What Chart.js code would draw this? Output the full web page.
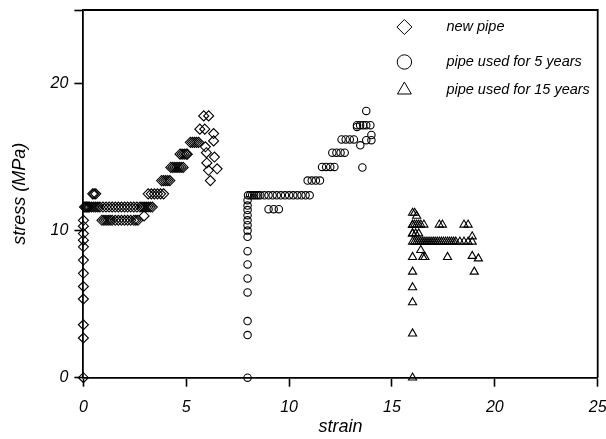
<!DOCTYPE html>
<html>
<head>
<meta charset="utf-8">
<script src="https://cdn.jsdelivr.net/npm/chart.js@4/dist/chart.umd.min.js"></script>
<style>
  html, body { margin: 0; padding: 0; background: #fff; }
  #wrap { width: 606px; height: 439px; }
</style>
</head>
<body>
<div id="wrap"><canvas id="c" width="606" height="439"></canvas></div>
<script>
// Stress–strain measurements for three pipe samples (strain, stress in MPa)
const seriesNames = ['new pipe', 'pipe used for 5 years', 'pipe used for 15 years'];

const newPipeStrain = [
  0, 0, 0, 0, 0, 0, 0, 0, 0, 0, 0, 0,
  0.05, 0.1, 0.15, 0.2, 0.25, 0.3, 0.4, 0.5, 0.6, 0.7, 0.8, 0.95, 1.1, 1.25, 1.4, 1.55, 1.7, 1.85, 2.0, 2.15, 2.3, 2.45, 2.6, 2.75, 2.85, 2.95, 3.05, 3.15, 3.25, 3.35,
  0.45, 0.52, 0.6,
  0.9, 1.0, 1.1, 1.2, 1.3, 1.4, 1.55, 1.7, 1.85, 2.0, 2.15, 2.3, 2.45, 2.55, 2.65,
  2.95,
  3.15, 3.3, 3.45, 3.6, 3.75, 3.9,
  3.8, 3.9, 4.0, 4.1, 4.2,
  4.25, 4.35, 4.45, 4.55, 4.65, 4.75, 4.85,
  4.7, 4.8, 4.9, 5.0, 5.05,
  5.2, 5.3, 5.4, 5.5, 5.6,
  5.66, 5.9,
  5.85, 6.09,
  6.33, 6.33, 5.93, 5.98, 6.37, 6.0, 6.08, 6.5, 6.17
];
const newPipeStress = [
  0, 2.7, 3.6, 5.35, 6.2, 7.1, 8.0, 8.9, 9.35, 9.8, 10.3, 10.7,
  11.6, 11.6, 11.6, 11.6, 11.6, 11.6, 11.6, 11.6, 11.6, 11.6, 11.6, 11.6, 11.6, 11.6, 11.6, 11.6, 11.6, 11.6, 11.6, 11.6, 11.6, 11.6, 11.6, 11.6, 11.6, 11.6, 11.6, 11.6, 11.6, 11.6,
  12.5, 12.5, 12.5,
  10.7, 10.7, 10.7, 10.7, 10.7, 10.7, 10.7, 10.7, 10.7, 10.7, 10.7, 10.7, 10.7, 10.7, 10.7,
  11.0,
  12.5, 12.5, 12.5, 12.5, 12.5, 12.5,
  13.4, 13.4, 13.4, 13.4, 13.4,
  14.3, 14.3, 14.3, 14.3, 14.3, 14.3, 14.3,
  15.2, 15.2, 15.2, 15.2, 15.2,
  16.0, 16.0, 16.0, 16.0, 16.0,
  16.9, 16.9,
  17.8, 17.8,
  16.6, 16.1, 15.7, 15.3, 15.0, 14.6, 14.1, 14.2, 13.4
];

const fiveYearStrain = [
  7.98, 7.98, 7.98, 7.98, 7.98, 7.98, 7.98, 7.98, 7.98, 7.98, 7.98, 7.98, 7.98, 7.98, 7.98,
  8.0, 8.1, 8.2, 8.3, 8.4, 8.5, 8.6, 8.8, 9.0, 9.2, 9.4, 9.6, 9.8, 10.0, 10.2, 10.4, 10.6, 10.8, 11.0,
  9.0, 9.25, 9.5,
  10.9, 11.1, 11.3, 11.5,
  11.6, 11.8, 12.0, 12.2,
  12.1, 12.3, 12.5, 12.7,
  12.55, 12.75, 12.95, 13.15,
  13.3, 13.45, 13.6, 13.75, 13.95,
  13.75, 13.56, 13.46, 14.0, 14.0, 13.75, 13.3
];
const fiveYearStress = [
  0, 2.9, 3.85, 5.8, 6.75, 7.7, 8.6, 9.58, 10.0, 10.37, 10.7, 11.05, 11.4, 11.7, 12.07,
  12.4, 12.4, 12.4, 12.4, 12.4, 12.4, 12.4, 12.4, 12.4, 12.4, 12.4, 12.4, 12.4, 12.4, 12.4, 12.4, 12.4, 12.4, 12.4,
  11.46, 11.46, 11.46,
  13.4, 13.4, 13.4, 13.4,
  14.33, 14.33, 14.33, 14.33,
  15.3, 15.3, 15.3, 15.3,
  16.2, 16.2, 16.2, 16.2,
  17.17, 17.17, 17.17, 17.17, 17.17,
  18.14, 14.29, 15.8, 16.5, 16.15, 16.15, 17.05
];

const fifteenYearStrain = [
  16.0, 16.0, 16.0, 16.0, 16.0, 16.0, 16.0, 16.0,
  16.0, 16.1, 16.2,
  16.0, 16.1, 16.2, 16.3, 16.4, 16.55, 17.3, 17.45, 18.5, 18.7,
  16.0, 16.15, 16.3, 18.9,
  16.0, 16.1, 16.2, 16.3, 16.4, 16.5, 16.6, 16.7, 16.8, 16.9, 17.0, 17.1, 17.2, 17.3, 17.4, 17.5, 17.6, 17.7, 17.8, 17.9, 18.0, 18.1, 18.3, 18.5, 18.7, 18.9,
  16.4, 16.5, 16.6, 17.7, 18.9, 19.2, 19.0
];
const fifteenYearStress = [
  0, 3.0, 5.12, 6.14, 7.2, 8.2, 9.8, 10.37,
  11.2, 11.2, 11.0,
  10.4, 10.4, 10.4, 10.4, 10.4, 10.4, 10.4, 10.4, 10.4, 10.4,
  9.8, 9.8, 9.8, 9.6,
  9.24, 9.24, 9.24, 9.24, 9.24, 9.24, 9.24, 9.24, 9.24, 9.24, 9.24, 9.24, 9.24, 9.24, 9.24, 9.24, 9.24, 9.24, 9.24, 9.24, 9.24, 9.24, 9.24, 9.24, 9.24, 9.24,
  8.67, 8.2, 8.2, 8.2, 8.27, 8.1, 7.2
];

const xTickValues = [0, 5, 10, 15, 20, 25];
const yTickValues = [0, 10, 20, 25];
const yTickLabels = ['0', '10', '20', ''];

const FONT = "'Liberation Sans', Arial, Helvetica, sans-serif";

function toPoints(xs, ys) {
  return xs.map((x, i) => ({ x: x, y: ys[i] }));
}

const markerStyles = ['rectRot', 'circle', 'triangle'];
const markerRadii = [5, 3.7, 4.7];

// Key drawn inside the plot frame, plus the closing top/right frame lines
const framePlugin = {
  id: 'frameAndKey',
  afterDraw(chart) {
    const { ctx, chartArea: a } = chart;
    ctx.save();
    ctx.strokeStyle = '#000';
    ctx.lineWidth = 1.8;
    ctx.beginPath();
    ctx.moveTo(a.left, a.top);
    ctx.lineTo(a.right, a.top);
    ctx.lineTo(a.right, a.bottom);
    ctx.stroke();

    const keyX = a.left + 321;
    const textX = a.left + 363;
    const rows = [a.top + 17, a.top + 52, a.top + 80];
    const keyRadii = [7.5, 7.2, 8];
    rows.forEach((y, i) => {
      ctx.strokeStyle = '#000';
      ctx.fillStyle = 'rgba(255,255,255,0)';
      ctx.lineWidth = 1;
      Chart.helpers.drawPoint(ctx, {
        pointStyle: markerStyles[i], radius: keyRadii[i], borderWidth: 1, rotation: 0
      }, keyX, y);
      ctx.fillStyle = '#000';
      ctx.font = 'italic 14.5px ' + FONT;
      ctx.textBaseline = 'middle';
      ctx.textAlign = 'left';
      ctx.fillText(seriesNames[i], textX, y);
    });
    ctx.restore();
  }
};

const commonDataset = {
  showLine: false,
  borderColor: '#000',
  backgroundColor: 'rgba(255,255,255,0)',
  pointBorderWidth: 1.1
};

new Chart(document.getElementById('c'), {
  type: 'scatter',
  data: {
    datasets: [
      Object.assign({}, commonDataset, {
        label: seriesNames[0], data: toPoints(newPipeStrain, newPipeStress),
        pointStyle: markerStyles[0], pointRadius: markerRadii[0]
      }),
      Object.assign({}, commonDataset, {
        label: seriesNames[1], data: toPoints(fiveYearStrain, fiveYearStress),
        pointStyle: markerStyles[1], pointRadius: markerRadii[1]
      }),
      Object.assign({}, commonDataset, {
        label: seriesNames[2], data: toPoints(fifteenYearStrain, fifteenYearStress),
        pointStyle: markerStyles[2], pointRadius: markerRadii[2]
      })
    ]
  },
  options: {
    responsive: false,
    animation: false,
    clip: false,
    layout: { padding: { left: 9, right: 8.3, top: 10, bottom: 0 } },
    plugins: {
      legend: { display: false },
      tooltip: { enabled: false }
    },
    scales: {
      x: {
        type: 'linear',
        min: 0, max: 25,
        afterBuildTicks(axis) { axis.ticks = xTickValues.map(v => ({ value: v })); },
        afterFit(scale) {
          scale.paddingLeft = 0;
          scale.paddingRight = 0;
          scale.height = 61.3;
        },
        grid: { drawOnChartArea: false, drawTicks: true, tickLength: 9, tickWidth: 1.6, tickColor: '#000' },
        border: { display: true, color: '#000', width: 1.8 },
        ticks: {
          color: '#000', padding: 11,
          font: { family: FONT, size: 16, style: 'italic' },
          maxRotation: 0
        },
        title: {
          display: true, text: 'strain', color: '#000',
          font: { family: FONT, size: 18, style: 'italic' },
          padding: { top: 1, bottom: 1 }
        }
      },
      y: {
        type: 'linear',
        min: 0, max: 25,
        afterBuildTicks(axis) { axis.ticks = yTickValues.map(v => ({ value: v })); },
        afterFit(scale) {
          scale.paddingTop = 0;
          scale.paddingBottom = 0;
        },
        grid: { drawOnChartArea: false, drawTicks: true, tickLength: 9, tickWidth: 1.6, tickColor: '#000' },
        border: { display: true, color: '#000', width: 1.8 },
        ticks: {
          color: '#000', padding: 6,
          font: { family: FONT, size: 16, style: 'italic' },
          callback(value) {
            const i = yTickValues.indexOf(value);
            return i >= 0 ? yTickLabels[i] : '';
          }
        },
        title: {
          display: true, text: 'stress (MPa)', color: '#000',
          font: { family: FONT, size: 18, style: 'italic' },
          padding: { top: 0, bottom: 14 }
        }
      }
    }
  },
  plugins: [framePlugin]
});
</script>
</body>
</html>
